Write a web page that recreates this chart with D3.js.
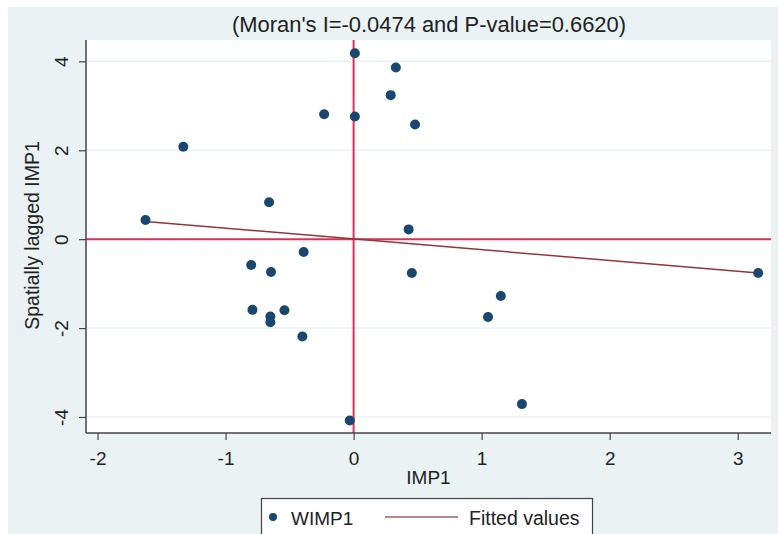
<!DOCTYPE html>
<html>
<head>
<meta charset="utf-8">
<script src="https://cdn.jsdelivr.net/npm/d3@7"></script>
<style>
  html, body { margin: 0; padding: 0; background: #ffffff; }
  svg { display: block; font-family: "Liberation Sans", Arial, sans-serif; }
</style>
</head>
<body>
<svg id="chart" width="778" height="534"></svg>
<script>
// IMP1 (x) against its spatial lag WIMP1 (y)
const imp1 = [0.01, 0.33, 0.29, -0.23, 0.01, 0.48, -1.33, -0.66, -1.625, 0.43,
              -0.39, -0.80, -0.645, -0.79, -0.54, -0.65, -0.65, -0.40,
              0.455, 1.15, 1.05, 1.315, -0.03, 3.16];
const wimp1 = [4.18, 3.86, 3.24, 2.81, 2.76, 2.58, 2.08, 0.83, 0.43, 0.22,
               -0.29, -0.58, -0.74, -1.59, -1.60, -1.74, -1.87, -2.19,
               -0.76, -1.28, -1.75, -3.71, -4.08, -0.76];

// Fitted values (linear fit) at the ends of the IMP1 range
const fitX = [-1.625, 3.16];
const fitY = [0.40, -0.76];

const xTicks = [-2, -1, 0, 1, 2, 3];
const yTicks = [-4, -2, 0, 2, 4];

const titleText = "(Moran's I=-0.0474 and P-value=0.6620)";
const xTitle = "IMP1";
const yTitle = "Spatially lagged IMP1";
const legendLabels = ["WIMP1", "Fitted values"];

const W = 778, H = 534;
const plot = { left: 86, right: 771, top: 40, bottom: 433 };

const navy = "#1a476f", maroon = "#90353b", refRed = "#d5345a";
const bg = "#eaf2f3", axisCol = "#444444", textCol = "#222222";
const fontFam = "Liberation Sans, Arial, sans-serif";

const svg = d3.select("#chart");

// outer graph region
svg.append("rect").attr("x", 8).attr("y", 7).attr("width", W - 8).attr("height", H - 7).attr("fill", bg);
// plot region
svg.append("rect").attr("x", plot.left).attr("y", plot.top)
  .attr("width", plot.right - plot.left).attr("height", plot.bottom - plot.top).attr("fill", "#ffffff");

const x = d3.scaleLinear().domain([-2.09, 3.26]).range([plot.left, plot.right]);
const y = d3.scaleLinear().domain([-4.36, 4.48]).range([plot.bottom, plot.top]);

// horizontal gridlines
svg.append("g").selectAll("line").data(yTicks).join("line")
  .attr("x1", plot.left).attr("x2", plot.right)
  .attr("y1", d => y(d)).attr("y2", d => y(d))
  .attr("stroke", bg).attr("stroke-width", 1.5);

// reference lines through the origin
svg.append("line").attr("x1", plot.left).attr("x2", plot.right)
  .attr("y1", y(0)).attr("y2", y(0)).attr("stroke", refRed).attr("stroke-width", 2);
svg.append("line").attr("x1", x(0)).attr("x2", x(0))
  .attr("y1", plot.top).attr("y2", plot.bottom).attr("stroke", refRed).attr("stroke-width", 2);

// fitted line
svg.append("path")
  .datum(fitX.map((v, i) => [v, fitY[i]]))
  .attr("d", d3.line().x(d => x(d[0])).y(d => y(d[1])))
  .attr("fill", "none").attr("stroke", maroon).attr("stroke-width", 1.5);

// scatter points
svg.append("g").selectAll("circle").data(imp1.map((v, i) => [v, wimp1[i]])).join("circle")
  .attr("cx", d => x(d[0])).attr("cy", d => y(d[1])).attr("r", 5).attr("fill", navy);

// axes (plain hyphen for negatives)
const fmt = d => String(d);
const xAxis = svg.append("g").attr("transform", `translate(0,${plot.bottom})`)
  .call(d3.axisBottom(x).tickValues(xTicks).tickSize(7).tickPadding(7).tickFormat(fmt));
const yAxis = svg.append("g").attr("transform", `translate(${plot.left},0)`)
  .call(d3.axisLeft(y).tickValues(yTicks).tickSize(7).tickPadding(0).tickFormat(fmt));

[xAxis, yAxis].forEach(g => {
  g.select(".domain").attr("stroke", axisCol).attr("stroke-width", 1.5);
  g.selectAll(".tick line").attr("stroke", axisCol).attr("stroke-width", 1.2);
  g.selectAll("text").attr("fill", textCol).attr("font-size", 19).attr("font-family", fontFam);
});
xAxis.select(".domain").attr("d", `M${plot.left},0H${plot.right}`);
yAxis.select(".domain").attr("d", `M0,${plot.bottom}V${plot.top}`);

// x tick labels sit on a fixed baseline
xAxis.selectAll(".tick text").attr("y", 32).attr("dy", null);

// rotated y tick labels
yAxis.selectAll(".tick text")
  .attr("x", 0).attr("y", 0).attr("dy", null)
  .attr("text-anchor", "middle")
  .attr("transform", "translate(-18,0) rotate(-90)");

// title
svg.append("text").attr("x", 429).attr("y", 32).attr("text-anchor", "middle")
  .attr("font-size", 21.5).attr("fill", textCol).attr("font-family", fontFam)
  .attr("textLength", 394).attr("lengthAdjust", "spacingAndGlyphs").text(titleText);

// axis titles
svg.append("text").attr("x", (plot.left + plot.right) / 2).attr("y", 484).attr("text-anchor", "middle")
  .attr("font-size", 19).attr("fill", textCol).text(xTitle);
svg.append("text").attr("transform", `translate(39,${(plot.top + plot.bottom) / 2 - 1}) rotate(-90)`)
  .attr("text-anchor", "middle").attr("font-size", 19.5).attr("fill", textCol).text(yTitle);

// legend
const leg = svg.append("g");
leg.append("rect").attr("x", 261.5).attr("y", 498.5).attr("width", 331).attr("height", 40)
  .attr("fill", "#ffffff").attr("stroke", axisCol).attr("stroke-width", 1.2);
leg.append("circle").attr("cx", 273).attr("cy", 517).attr("r", 4).attr("fill", navy);
leg.append("text").attr("x", 291).attr("y", 525).attr("font-size", 19).attr("fill", textCol).text(legendLabels[0]);
leg.append("line").attr("x1", 385).attr("x2", 458).attr("y1", 517).attr("y2", 517)
  .attr("stroke", maroon).attr("stroke-width", 1.5).attr("stroke-opacity", 0.8);
leg.append("text").attr("x", 469).attr("y", 525).attr("font-size", 19.5).attr("fill", textCol).text(legendLabels[1]);
</script>
</body>
</html>
